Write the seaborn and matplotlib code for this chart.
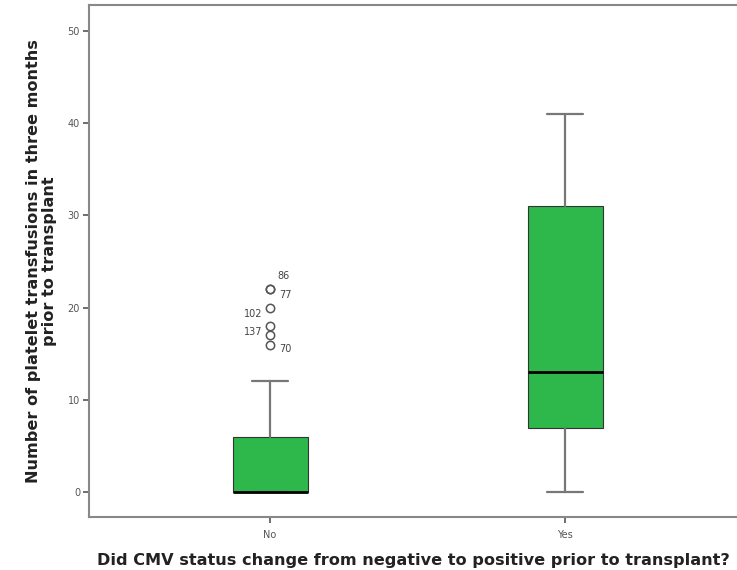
import matplotlib
matplotlib.use('agg')
import matplotlib.pyplot as plt
import seaborn as sns

# summary stats
groups = ['No', 'Yes']
whisker_low = [0, 0]
q1 = [0, 7]
median = [0, 13]
q3 = [6, 31]
whisker_high = [12, 41]
fliers_no = [22, 22, 20, 18, 17, 16]
fliers_yes = []

# case labels on the outliers of the "No" group
case_ids = ['86', '77', '102', '137', '70']
case_vals = [22, 22, 20, 18, 16]
case_offsets = [(13, 13), (15, -6), (-17, -6), (-17, -6), (15, -4)]

sns.set_style('white')
plt.rcParams['font.family'] = ['DejaVu Sans']

fig = plt.figure(figsize=(7.37, 5.70), dpi=100)
ax = fig.add_axes([0.1208, 0.093, 0.8792, 0.898])

stats = []
for i, g in enumerate(groups):
    stats.append({
        'label': g,
        'whislo': whisker_low[i],
        'q1': q1[i],
        'med': median[i],
        'q3': q3[i],
        'whishi': whisker_high[i],
        'fliers': [fliers_no, fliers_yes][i],
    })

ax.bxp(stats, positions=range(len(groups)), widths=0.254, capwidths=0.122,
       patch_artist=True,
       boxprops=dict(facecolor='#2eb84b', edgecolor='#333333', linewidth=0.8),
       medianprops=dict(color='black', linewidth=2.0),
       whiskerprops=dict(color='#777777', linewidth=1.6),
       capprops=dict(color='#777777', linewidth=1.6),
       flierprops=dict(marker='o', markersize=6, markerfacecolor='none',
                       markeredgecolor='#555555', markeredgewidth=1.1))

for cid, val, off in zip(case_ids, case_vals, case_offsets):
    ax.annotate(cid, (0, val), xytext=off, textcoords='offset pixels',
                ha='center', va='center', fontsize=7, color='#444444')

ax.set_xlim(-0.614, 1.583)
ax.set_ylim(-2.7, 52.8)
ax.set_yticks([0, 10, 20, 30, 40, 50])
ax.set_xticks([0, 1])
ax.set_xticklabels(groups)

for side in ['left', 'bottom', 'top']:
    ax.spines[side].set_color('#888888')
    ax.spines[side].set_linewidth(1.5)
ax.spines['right'].set_visible(False)

ax.tick_params(axis='both', which='major', direction='out', length=4.5, width=1.2,
               color='#555555', labelsize=7, labelcolor='#555555', pad=2,
               left=True, bottom=True)
ax.tick_params(axis='x', pad=5)

ax.set_xlabel('Did CMV status change from negative to positive prior to transplant?',
              fontsize=11.6, fontweight='bold', color='#222222', labelpad=9)
ax.set_ylabel('Number of platelet transfusions in three months\nprior to transplant',
              fontsize=11.6, fontweight='bold', color='#222222', labelpad=8,
              linespacing=1.05)

fig.savefig('out.png', dpi=100)
